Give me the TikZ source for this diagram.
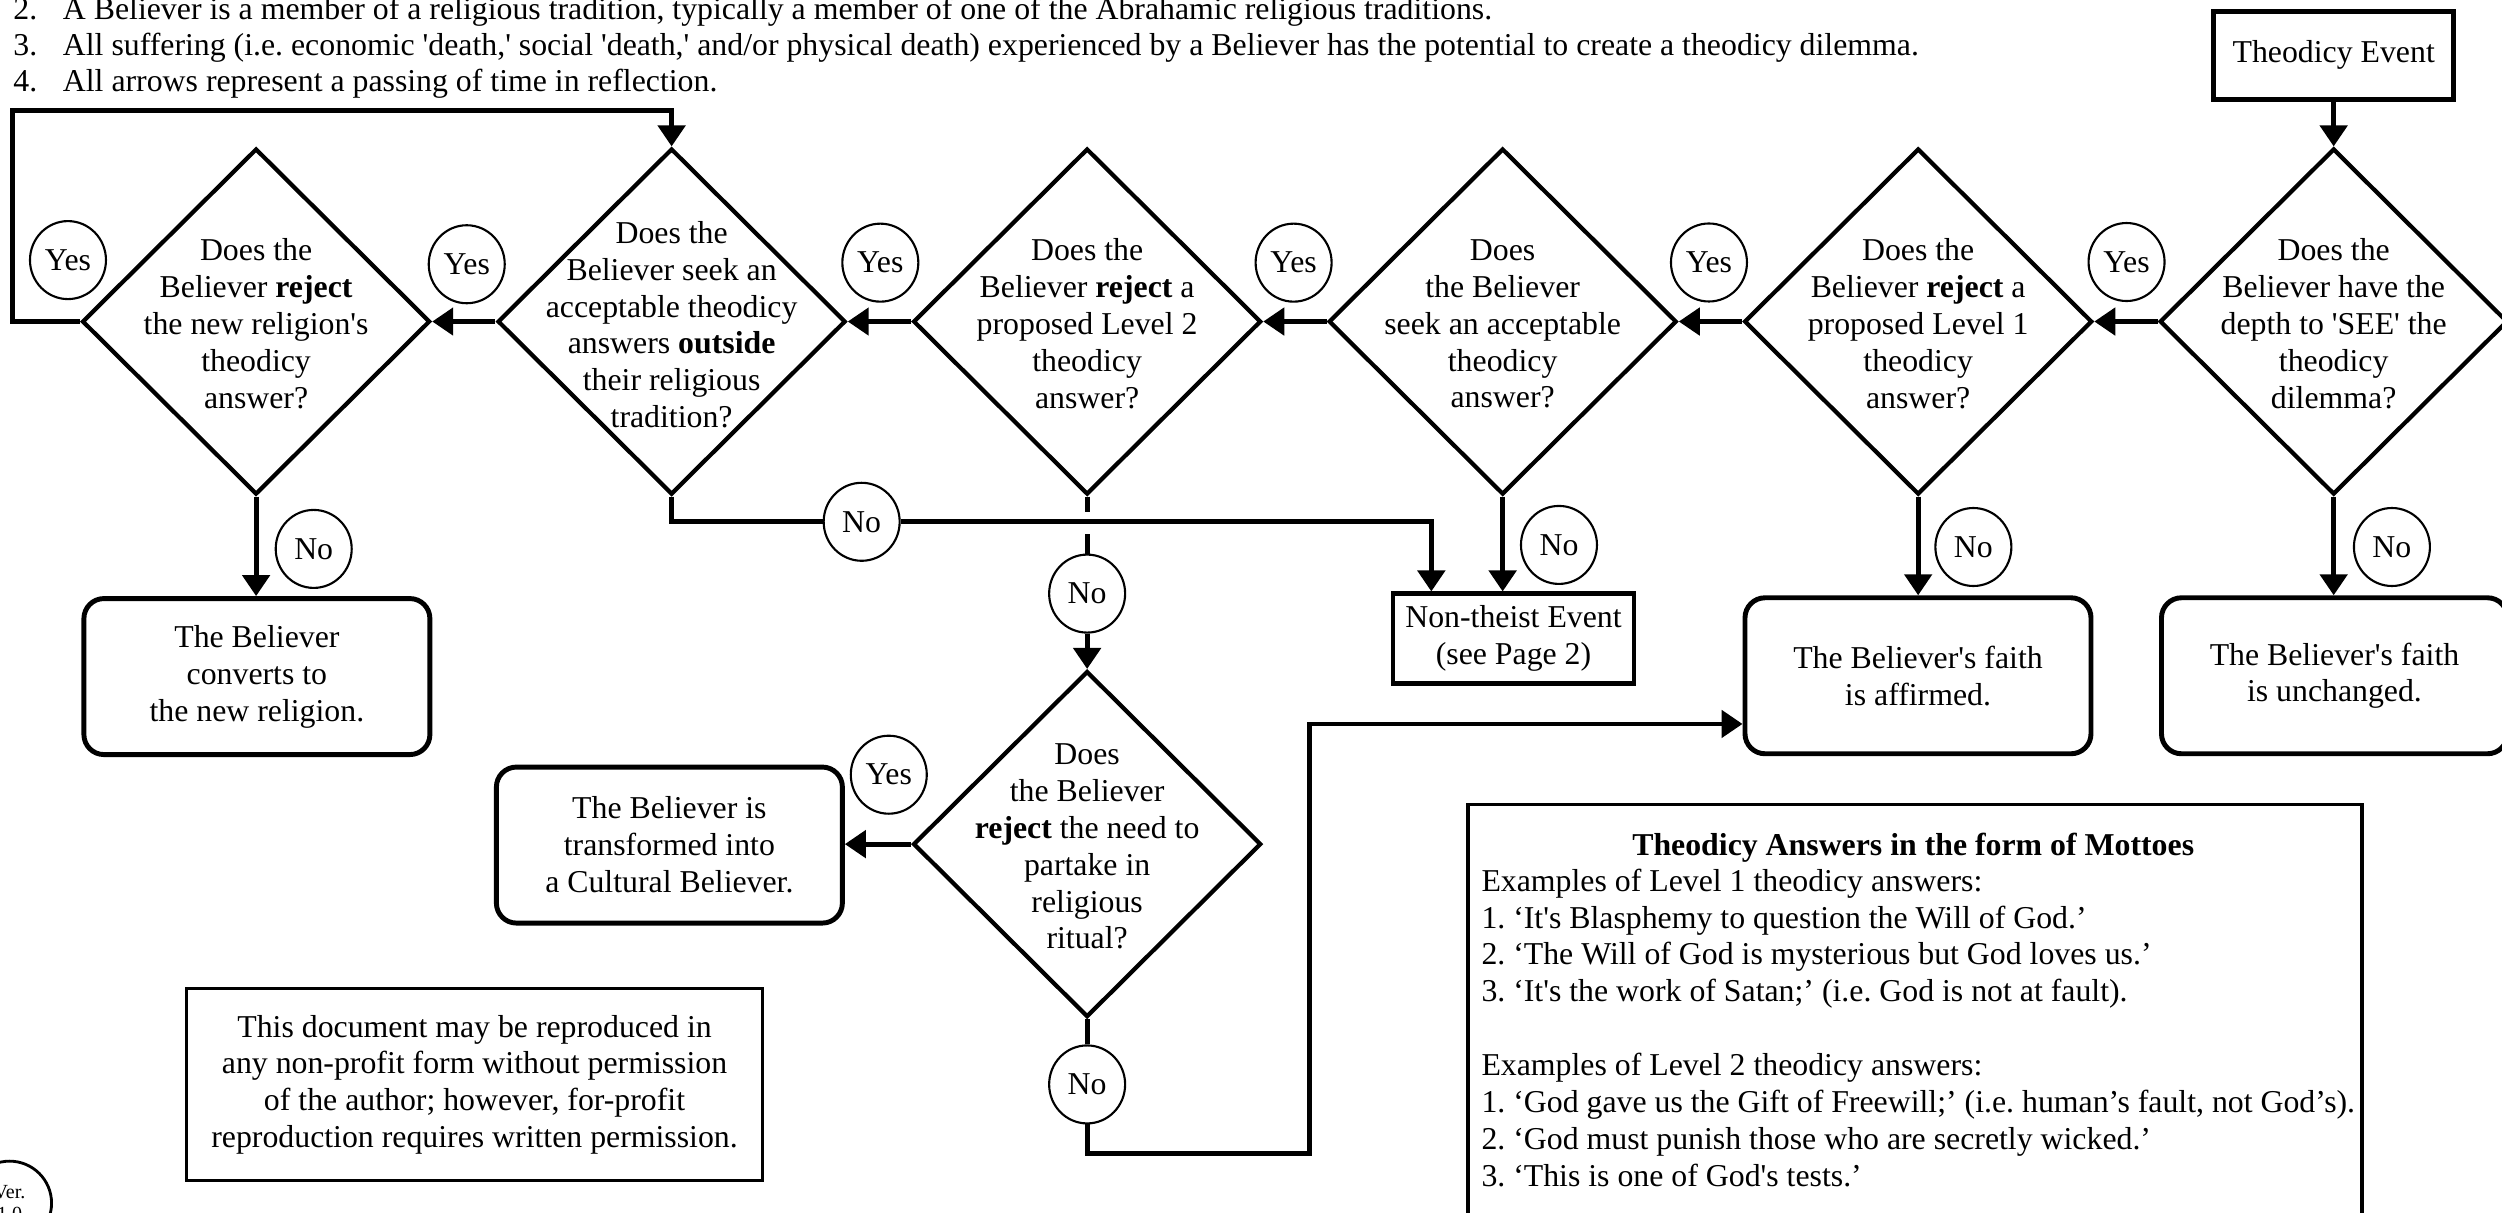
\documentclass[tikz,border=0pt]{standalone}
\usepackage{fontspec}
\setmainfont{Liberation Serif}[Ligatures=TeXOff]
\frenchspacing
\usetikzlibrary{arrows.meta}
\tikzset{>={Triangle[length=2.1mm,width=2.7mm]}}
\usetikzlibrary{shapes,positioning}
\tikzset{
	every node/.style={font=\fontsize{9.05pt}{10.5pt}\selectfont},
	question/.style={diamond,draw,line width=1.2pt,minimum width=3.48cm,minimum height=3.46cm,inner sep=0pt},
	qtext/.style={align=center,inner sep=0pt},
	yesno/.style={ellipse,draw,fill=white,line width=0.6pt,minimum width=0.76cm,minimum height=0.78cm,inner sep=0pt},
	outcome/.style={draw,rounded corners=0.2cm,line width=1.4pt,minimum width=3.46cm,minimum height=1.56cm,align=center},
	note/.style={anchor=base west,inner sep=0pt},
	link/.style={line width=1.4pt},
}

\begin{document}
\begin{tikzpicture}[x=0.15957mm,y=-0.15957mm]
	\useasboundingbox (0,0) rectangle (1568,760);
	\node[note] (num2) at (8,12) {2.};
	\node[note] (note2) at (39,12) {A Believer is a member of a religious tradition, typically a member of one of the Abrahamic religious traditions.};
	\node[note] (num3) at (8,34.5) {3.};
	\node[note] (note3) at (39,34.5) {All suffering (i.e. economic 'death,' social 'death,' and/or physical death) experienced by a Believer has the potential to create a theodicy dilemma.};
	\node[note] (num4) at (8,57.5) {4.};
	\node[note] (note4) at (39,57.5) {All arrows represent a passing of time in reflection.};
	
	\node[draw,line width=1.4pt,minimum width=2.4cm,minimum height=0.88cm] (event) at (1462.5,34.5) {Theodicy Event};
	
	\node[question] (d1) at (1462.5,201.5) {};
	\node[qtext] (q1) at (1462.5,203) {Does the\\Believer have the\\depth to 'SEE' the\\theodicy\\dilemma?};
	\node[question] (d2) at (1202.1,201.5) {};
	\node[qtext] (q2) at (1202.1,203) {Does the\\Believer \textbf{reject} a\\proposed Level 1\\theodicy\\answer?};
	\node[question] (d3) at (941.7,201.5) {};
	\node[qtext] (q3) at (941.7,203) {Does\\the Believer\\seek an acceptable\\theodicy\\answer?};
	\node[question] (d4) at (681.3,201.5) {};
	\node[qtext] (q4) at (681.3,203) {Does the\\Believer \textbf{reject} a\\proposed Level 2\\theodicy\\answer?};
	\node[question] (d5) at (420.9,201.5) {};
	\node[qtext] (q5) at (420.9,203.5) {Does the\\Believer seek an\\acceptable theodicy\\answers \textbf{outside}\\their religious\\tradition?};
	\node[question] (d6) at (160.5,201.5) {};
	\node[qtext] (q6) at (160.5,203) {Does the\\Believer \textbf{reject}\\the new religion's\\theodicy\\answer?};
	\node[question] (d7) at (681.3,529) {};
	\node[qtext] (q7) at (681.3,530.5) {Does\\the Believer\\\textbf{reject} the need to\\partake in\\religious\\ritual?};
	
	\node[outcome] (unchanged) at (1463,423.5) {The Believer's faith\\is unchanged.};
	\node[outcome] (affirm) at (1202,423.5) {The Believer's faith\\is affirmed.};
	\node[outcome] (conv) at (161,424) {The Believer\\converts to\\the new religion.};
	\node[outcome] (cultural) at (419.5,529.6) {The Believer is\\transformed into\\a Cultural Believer.};
	\node[draw,line width=1.2pt,minimum width=2.41cm,minimum height=0.9cm,align=center] (nonth) at (948.5,400.2) {Non-theist Event\\(see Page 2)};
	
	\node[draw,line width=0.8pt,minimum width=5.76cm,minimum height=1.92cm,align=center] (permit) at (297.4,679.8) {This document may be reproduced in\\any non-profit form without permission\\of the author; however, for-profit\\reproduction requires written permission.};
	
	\node[draw,line width=1pt,minimum width=8.94cm,minimum height=5cm,anchor=north west] (mottoes) at (919,503) {};
	\node[anchor=base] (mottotitle) at (1199,536) {\textbf{Theodicy Answers in the form of Mottoes}};
	\node[anchor=north west,align=left,inner sep=0pt] (mottolist) at (928,544) {Examples of Level 1 theodicy answers:\\1. ‘It's Blasphemy to question the Will of God.’\\2. ‘The Will of God is mysterious but God loves us.’\\3. ‘It's the work of Satan;’ (i.e. God is not at fault).\\[10.5pt]Examples of Level 2 theodicy answers:\\1. ‘God gave us the Gift of Freewill;’ (i.e. human’s fault, not God’s).\\2. ‘God must punish those who are secretly wicked.’\\3. ‘This is one of God's tests.’};
	
	\node[circle,draw,line width=0.8pt,minimum size=0.84cm,inner sep=0pt,align=center,font=\fontsize{5.7pt}{6.4pt}\selectfont] (ver) at (6,754) {Ver.\\1.0};
	
	\node[yesno] (y1) at (1332.7,164.2) {Yes};
	\node[yesno] (y2) at (1071,164.5) {Yes};
	\node[yesno] (y3) at (810.7,164.6) {Yes};
	\node[yesno] (y4) at (551.7,164.6) {Yes};
	\node[yesno] (y5) at (292.5,165.6) {Yes};
	\node[yesno] (y6) at (42.6,163) {Yes};
	\node[yesno] (y7) at (557,485.5) {Yes};
	\node[yesno] (n1) at (1499,342.8) {No};
	\node[yesno] (n2) at (1236.7,342.8) {No};
	\node[yesno] (n3) at (977,341.5) {No};
	\node[yesno] (n4) at (681.3,372) {No};
	\node[yesno] (n5) at (540,327) {No};
	\node[yesno] (n6) at (196.6,344) {No};
	\node[yesno] (n7) at (681.3,679.6) {No};
	
	\coordinate (loop) at (7.9,69);
	\coordinate (hop) at (897,327);
	\coordinate (low) at (820.8,723);
	\coordinate (up) at (820.8,453.7);
	
	\draw[link,->] (event) -- (d1);
	\draw[link,->] (d1) -- (d2);
	\draw[link,->] (d2) -- (d3);
	\draw[link,->] (d3) -- (d4);
	\draw[link,->] (d4) -- (d5);
	\draw[link,->] (d5) -- (d6);
	\draw[link,->] (d6.west) -| (loop) -| (d5.north);
	\draw[link,->] (d6) -- (d6 |- conv.north);
	\draw[link] (d5.south) |- (n5);
	\draw[link,->] (n5) -- (hop) -- (hop |- nonth.north);
	\draw[link] (d4.south) -- ++(0,9.5);
	\draw[link] (n4.north) -- ++(0,-12);
	\draw[link,->] (n4) -- (d7);
	\draw[link,->] (d3) -- (d3 |- nonth.north);
	\draw[link,->] (d2) -- (d2 |- affirm.north);
	\draw[link,->] (d1) -- (d1 |- unchanged.north);
	\draw[link,->] (d7) -- (d7 -| cultural.east);
	\draw[link] (d7) -- (n7);
	\draw[link,->] (n7) |- (low) -- (up) -- (up -| affirm.west);
\end{tikzpicture}
\end{document}
